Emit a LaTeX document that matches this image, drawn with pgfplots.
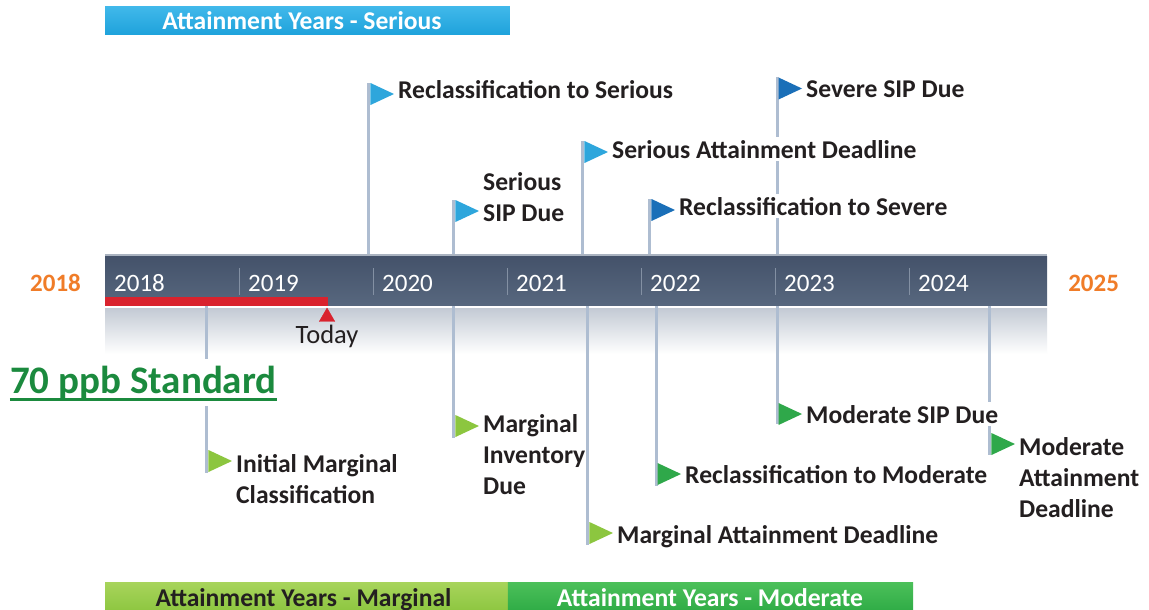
\documentclass[border=0pt]{standalone}
\usepackage{pgfplots}
\pgfplotsset{compat=1.18}
\usepackage{fontspec}
\setmainfont{Carlito}
\definecolor{labtext}{HTML}{231F20}
\definecolor{polecol}{HTML}{AEBDD1}
\definecolor{serflag}{HTML}{2EA6DC}
\definecolor{sevflag}{HTML}{1A6FB8}
\definecolor{marflag}{HTML}{8CC63F}
\definecolor{modflag}{HTML}{2FA84A}
\definecolor{serTop}{HTML}{40B8EA}
\definecolor{serBot}{HTML}{1EA2DB}
\definecolor{marTop}{HTML}{A8D45C}
\definecolor{marBot}{HTML}{8CC63F}
\definecolor{modTop}{HTML}{4CC05A}
\definecolor{modBot}{HTML}{2EAB45}
\definecolor{barTop}{HTML}{44526A}
\definecolor{barBot}{HTML}{57677E}
\definecolor{sepcol}{HTML}{8390A3}
\definecolor{redc}{HTML}{D9232E}
\definecolor{orangec}{HTML}{F07C28}
\definecolor{stdgreen}{HTML}{1B8A3E}
\definecolor{fadegrey}{HTML}{C3CAD4}
\definecolor{edgegrey}{HTML}{AAB3C0}
\pgfdeclareplotmark{flag}{%
  \pgfpathmoveto{\pgfqpoint{1.5bp}{11bp}}%
  \pgfpathlineto{\pgfqpoint{25bp}{0bp}}%
  \pgfpathlineto{\pgfqpoint{1.5bp}{-11bp}}%
  \pgfpathclose
  \pgfusepathqfill}
\tikzset{
  lab/.style={anchor=base west, inner xsep=0.5bp, inner ysep=3bp, fill=white, text=labtext,
    font=\fontsize{25.6bp}{31bp}\selectfont\bfseries, xshift=28.5bp},
  pole/.style={polecol, line width=3bp},
}
\begin{document}
\begin{tikzpicture}
\begin{axis}[
  scale only axis, width=1149bp, height=609bp,
  xmin=2017.2164, xmax=2025.791, ymin=0, ymax=609, y dir=reverse,
  hide axis, clip=false]
% background
\addplot[draw=none, fill=white] coordinates {(2017.2164,0) (2025.791,0) (2025.791,609) (2017.2164,609)} -- cycle;
% poles above
\addplot[pole] coordinates {(2019.970,83) (2019.970,256)};
\addplot[pole] coordinates {(2020.604,200) (2020.604,256)};
\addplot[pole] coordinates {(2021.567,141) (2021.567,256)};
\addplot[pole] coordinates {(2022.067,199) (2022.067,256)};
\addplot[pole] coordinates {(2023.015,77) (2023.015,256)};
% fade under bar
\addplot[draw=none, top color=fadegrey, bottom color=white] coordinates {(2018,308) (2025.03,308) (2025.03,354) (2018,354)} -- cycle;
% poles below
\addplot[pole] coordinates {(2018.761,305) (2018.761,473)};
\addplot[pole] coordinates {(2020.604,305) (2020.604,438)};
\addplot[pole] coordinates {(2021.604,305) (2021.604,545)};
\addplot[pole] coordinates {(2022.112,305) (2022.112,486)};
\addplot[pole] coordinates {(2023.015,305) (2023.015,424)};
\addplot[pole] coordinates {(2024.604,305) (2024.604,455)};
% main bar
\addplot[edgegrey, line width=2bp] coordinates {(2018,255) (2025.03,255)};
\addplot[draw=none, top color=barTop, bottom color=barBot] coordinates {(2018,256) (2025.03,256) (2025.03,305) (2018,305)} -- cycle;
\pgfplotsinvokeforeach{2019,2020,2021,2022,2023,2024}{
  \addplot[sepcol, line width=1bp] coordinates {(#1,268) (#1,295)};
}
\pgfplotsinvokeforeach{2018,2019,2020,2021,2022,2023,2024}{
  \node[anchor=base west, inner sep=0, xshift=9bp, text=white, font=\fontsize{25bp}{30bp}\selectfont] at (axis cs:#1,291) {#1};
}
% red "today" progress
\addplot[draw=none, fill=redc] coordinates {(2018,297) (2019.664,297) (2019.664,305.5) (2018,305.5)} -- cycle;
\addplot[only marks, mark=triangle*, mark size=9pt, color=redc] coordinates {(2019.657,317)};
\node[anchor=base, inner sep=0, text=labtext, font=\fontsize{26.5bp}{30bp}\selectfont] at (axis cs:2019.657,343) {Today};
% end-year labels
\node[anchor=base west, inner sep=0, text=orangec, font=\fontsize{25bp}{30bp}\selectfont\bfseries] at (axis cs:2017.440,291) {2018};
\node[anchor=base west, inner sep=0, text=orangec, font=\fontsize{25bp}{30bp}\selectfont\bfseries] at (axis cs:2025.187,291) {2025};
% bands
\addplot[draw=none, top color=serTop, bottom color=serBot] coordinates {(2018,7) (2021.022,7) (2021.022,35) (2018,35)} -- cycle;
\addplot[draw=none, top color=marTop, bottom color=marBot] coordinates {(2018,582) (2021.007,582) (2021.007,612) (2018,612)} -- cycle;
\addplot[draw=none, top color=modTop, bottom color=modBot] coordinates {(2021.007,582) (2024.030,582) (2024.030,612) (2021.007,612)} -- cycle;
\node[anchor=base, inner sep=0, text=white, font=\fontsize{25.6bp}{30bp}\selectfont\bfseries] at (axis cs:2019.470,29.3) {Attainment Years - Serious};
\node[anchor=base, inner sep=0, text=labtext, font=\fontsize{25.6bp}{30bp}\selectfont\bfseries] at (axis cs:2019.481,606) {Attainment Years - Marginal};
\node[anchor=base, inner sep=0, text=white, font=\fontsize{25.6bp}{30bp}\selectfont\bfseries] at (axis cs:2022.515,606) {Attainment Years - Moderate};
% 70 ppb standard
\node[anchor=base west, inner xsep=0, inner ysep=7bp, fill=white, text=stdgreen, font=\fontsize{39bp}{44bp}\selectfont\bfseries] (std) at (axis cs:2017.291,393) {70 ppb Standard};
% labels
\node[lab] at (axis cs:2019.970,98) {Reclassification to Serious};
\node[lab] at (axis cs:2020.604,190) {Serious};
\node[lab] at (axis cs:2020.604,221) {SIP Due};
\node[lab] at (axis cs:2021.567,158) {Serious Attainment Deadline};
\node[lab] at (axis cs:2022.067,215) {Reclassification to Severe};
\node[lab] at (axis cs:2023.015,97) {Severe SIP Due};
\node[lab] at (axis cs:2018.761,472) {Initial Marginal};
\node[lab] at (axis cs:2018.761,503) {Classification};
\node[lab] at (axis cs:2020.604,432) {Marginal};
\node[lab] at (axis cs:2020.604,463) {Inventory};
\node[lab] at (axis cs:2020.604,494) {Due};
\node[lab] at (axis cs:2021.604,543) {Marginal Attainment Deadline};
\node[lab] at (axis cs:2022.112,483) {Reclassification to Moderate};
\node[lab] at (axis cs:2023.015,423) {Moderate SIP Due};
\node[lab] at (axis cs:2024.604,455) {Moderate};
\node[lab] at (axis cs:2024.604,486) {Attainment};
\node[lab] at (axis cs:2024.604,517) {Deadline};
% flags
\addplot[only marks, mark=flag, color=serflag] coordinates {(2019.970,94) (2020.604,211) (2021.567,152)};
\addplot[only marks, mark=flag, color=sevflag] coordinates {(2022.067,210) (2023.015,88.5)};
\addplot[only marks, mark=flag, color=marflag] coordinates {(2018.761,461) (2020.604,426) (2021.604,533)};
\addplot[only marks, mark=flag, color=modflag] coordinates {(2022.112,474) (2023.015,414) (2024.604,444)};
\end{axis}
\draw[stdgreen, line width=3bp] ([yshift=-6bp]std.base west) -- ([yshift=-6bp]std.base east);
\pgfresetboundingbox
\path (current axis.south west) rectangle (current axis.north east);
\end{tikzpicture}
\end{document}
